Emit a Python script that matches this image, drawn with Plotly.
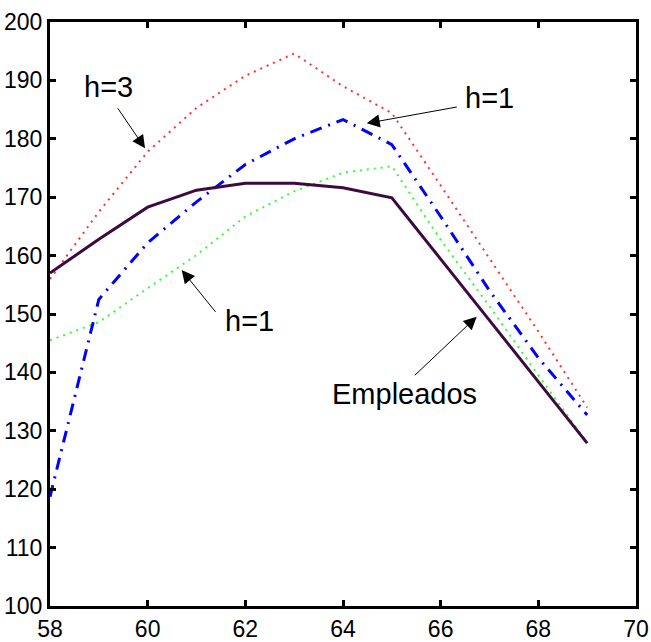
import plotly.graph_objects as go

years = [58, 59, 60, 61, 62, 63, 64, 65, 66, 67, 68, 69]
empleados = [157.0, 162.8, 168.3, 171.2, 172.4, 172.4, 171.6, 169.9, 159.4, 148.9, 138.4, 127.9]
h1_blue = [118.7, 152.5, 162.2, 169.2, 175.6, 180.0, 183.3, 179.0, 166.7, 154.0, 142.5, 132.7]
h3_red = [156.0, 167.5, 177.8, 185.3, 190.8, 194.6, 189.0, 184.4, 172.0, 159.5, 147.0, 134.0]
h1_green = [145.5, 148.6, 154.4, 160.1, 166.7, 171.0, 174.2, 175.3, 162.7, 151.3, 139.5, 128.0]

x_ticks = [58, 60, 62, 64, 66, 68, 70]
y_ticks = [100, 110, 120, 130, 140, 150, 160, 170, 180, 190, 200]

fig = go.Figure()
fig.add_trace(go.Scatter(x=years, y=h3_red, mode="lines",
                         line=dict(color="#ff3030", width=2, dash="2px,5px")))
fig.add_trace(go.Scatter(x=years, y=h1_green, mode="lines",
                         line=dict(color="#30ff30", width=2, dash="2px,5px")))
fig.add_trace(go.Scatter(x=years, y=h1_blue, mode="lines",
                         line=dict(color="#0000ff", width=3, dash="12px,7px,2px,7px")))
fig.add_trace(go.Scatter(x=years, y=empleados, mode="lines",
                         line=dict(color="#3d0a40", width=3)))

afont = dict(family="Liberation Sans, Arial", size=29, color="black")

arrows = [
    (59.946, 178.37, -28.3, -41.6),
    (64.486, 182.65, 91.6, -16.6),
    (60.697, 157.53, 35, 43.3),
    (66.738, 149.54, -63.4, 60),
]
for (x, y, ax, ay) in arrows:
    fig.add_annotation(x=x, y=y, ax=ax, ay=ay, xref="x", yref="y", text="",
                       showarrow=True, arrowhead=2, arrowsize=2.6, arrowwidth=1,
                       arrowcolor="black")

texts = [
    ("h=3", 59.188, 188.8),
    ("h=1", 66.99, 187.0),
    ("h=1", 62.075, 148.8),
    ("Empleados", 65.25, 136.3),
]
for (t, x, y) in texts:
    fig.add_annotation(x=x, y=y, xref="x", yref="y", text=t, showarrow=False,
                       font=afont, xanchor="center", yanchor="middle")

axis_common = dict(showgrid=False, zeroline=False, showline=True, linecolor="black",
                   linewidth=3, ticks="inside", ticklen=6, tickwidth=3,
                   tickcolor="black", mirror="ticks", automargin=False,
                   tickfont=dict(family="Liberation Sans, Arial", size=23, color="black"))

fig.update_xaxes(range=[58, 70], tickvals=x_ticks, ticktext=[str(v) for v in x_ticks],
                 **axis_common)
fig.update_yaxes(range=[100, 200], tickvals=y_ticks, ticktext=[str(v) for v in y_ticks],
                 **axis_common)

fig.update_layout(width=651, height=642, showlegend=False,
                  margin=dict(l=50, r=15, t=22, b=36),
                  paper_bgcolor="white", plot_bgcolor="white")

fig.write_html("out.html")
